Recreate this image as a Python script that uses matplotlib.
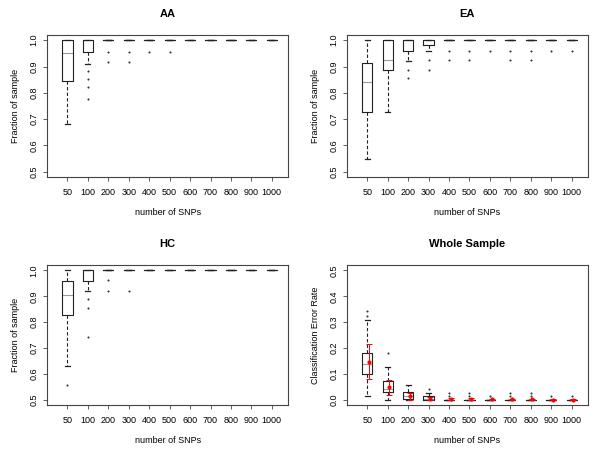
import matplotlib
matplotlib.use("Agg")
import matplotlib.pyplot as plt

plt.rcParams['font.family'] = ['Liberation Sans', 'DejaVu Sans']

snps = ["50", "100", "200", "300", "400", "500", "600", "700", "800", "900", "1000"]

# AA
aa_q1 = [0.845, 0.957, 1.0, 1.0, 1.0, 1.0, 1.0, 1.0, 1.0, 1.0, 1.0]
aa_med = [0.95, 1.0, 1.0, 1.0, 1.0, 1.0, 1.0, 1.0, 1.0, 1.0, 1.0]
aa_q3 = [1.0] * 11
aa_lo = [0.68, 0.911, 1.0, 1.0, 1.0, 1.0, 1.0, 1.0, 1.0, 1.0, 1.0]
aa_hi = [1.0] * 11
aa_out = [[], [0.883, 0.853, 0.823, 0.777], [0.957, 0.918], [0.957, 0.918],
          [0.957], [0.957], [], [], [], [], []]

# EA
ea_q1 = [0.727, 0.888, 0.96, 0.981, 1.0, 1.0, 1.0, 1.0, 1.0, 1.0, 1.0]
ea_med = [0.841, 0.923, 1.0, 1.0, 1.0, 1.0, 1.0, 1.0, 1.0, 1.0, 1.0]
ea_q3 = [0.915, 1.0, 1.0, 1.0, 1.0, 1.0, 1.0, 1.0, 1.0, 1.0, 1.0]
ea_lo = [0.547, 0.727, 0.921, 0.96, 1.0, 1.0, 1.0, 1.0, 1.0, 1.0, 1.0]
ea_hi = [1.0] * 11
ea_out = [[], [], [0.888, 0.857], [0.923, 0.888], [0.96, 0.923], [0.96, 0.923],
          [0.96], [0.96, 0.923], [0.96, 0.923], [0.96], [0.96]]

# HC
hc_q1 = [0.827, 0.957, 1.0, 1.0, 1.0, 1.0, 1.0, 1.0, 1.0, 1.0, 1.0]
hc_med = [0.905, 1.0, 1.0, 1.0, 1.0, 1.0, 1.0, 1.0, 1.0, 1.0, 1.0]
hc_q3 = [0.957, 1.0, 1.0, 1.0, 1.0, 1.0, 1.0, 1.0, 1.0, 1.0, 1.0]
hc_lo = [0.632, 0.92, 1.0, 1.0, 1.0, 1.0, 1.0, 1.0, 1.0, 1.0, 1.0]
hc_hi = [1.0] * 11
hc_out = [[0.556], [0.889, 0.854, 0.744], [0.961, 0.921], [0.922],
          [], [], [], [], [], [], []]

# Whole sample
ws_q1 = [0.099, 0.031, 0.003, 0.0, 0.0, 0.0, 0.0, 0.0, 0.0, 0.0, 0.0]
ws_med = [0.14, 0.041, 0.013, 0.005, 0.0, 0.0, 0.0, 0.0, 0.0, 0.0, 0.0]
ws_q3 = [0.182, 0.071, 0.029, 0.015, 0.0, 0.0, 0.0, 0.0, 0.0, 0.0, 0.0]
ws_lo = [0.015, 0.0, 0.0, 0.0, 0.0, 0.0, 0.0, 0.0, 0.0, 0.0, 0.0]
ws_hi = [0.309, 0.125, 0.056, 0.028, 0.0, 0.0, 0.0, 0.0, 0.0, 0.0, 0.0]
ws_out = [[0.325, 0.342], [0.181], [], [0.042], [0.014, 0.028], [0.014, 0.028],
          [0.014], [0.014, 0.028], [0.014, 0.028], [0.014], [0.014]]
ws_mean = [0.146, 0.048, 0.013, 0.005, 0.003, 0.003, 0.002, 0.002, 0.002, 0.001, 0.001]
ws_err_lo = [0.081, 0.018, 0.0, 0.0, 0.0, 0.0, 0.0, 0.0, 0.0, 0.0, 0.0]
ws_err_hi = [0.214, 0.076, 0.028, 0.011, 0.007, 0.007, 0.005, 0.005, 0.005, 0.003, 0.003]


def make_stats(q1, med, q3, lo, hi, out):
    return [dict(q1=a, med=b, q3=c, whislo=d, whishi=e, fliers=f)
            for a, b, c, d, e, f in zip(q1, med, q3, lo, hi, out)]


def draw_panel(ax, stats, title, ylabel, ylim, yticks):
    pos = list(range(1, len(stats) + 1))
    ax.bxp(stats, positions=pos, widths=0.5, showfliers=True,
           boxprops=dict(color='#222222', linewidth=0.8, zorder=3),
           whiskerprops=dict(color='#222222', linewidth=0.8, linestyle=(0, (3, 2))),
           capprops=dict(color='#222222', linewidth=0.9),
           capwidths=0.25,
           medianprops=dict(color='#999999', linewidth=0.8, zorder=2),
           flierprops=dict(marker='o', markersize=1.5, markerfacecolor='#333333',
                           markeredgewidth=0, linestyle='none'))
    ax.set_xlim(0.0, 11.8)
    ax.set_ylim(*ylim)
    ax.set_xticks(pos)
    ax.set_xticklabels(snps, fontsize=6.5)
    ax.set_yticks(yticks)
    ax.set_yticklabels([f"{t:.1f}" for t in yticks], fontsize=6.5, rotation=90, va='center')
    ax.tick_params(length=3, width=0.6, color='#444444', pad=3)
    ax.tick_params(axis='x', pad=5)
    for s in ax.spines.values():
        s.set_color('#444444')
        s.set_linewidth(0.8)
    ax.set_title(title, fontsize=8, fontweight='bold', pad=13)
    ax.set_xlabel("number of SNPs", fontsize=6.5, labelpad=8)
    ax.set_ylabel(ylabel, fontsize=6.5, labelpad=7)


fig = plt.figure(figsize=(6, 4.51), dpi=100)
ax1 = fig.add_axes([0.0783, 0.6075, 0.402, 0.315])
ax2 = fig.add_axes([0.578, 0.6075, 0.402, 0.315])
ax3 = fig.add_axes([0.0783, 0.102, 0.402, 0.310])
ax4 = fig.add_axes([0.578, 0.102, 0.402, 0.310])

frac_ticks = [0.5, 0.6, 0.7, 0.8, 0.9, 1.0]
draw_panel(ax1, make_stats(aa_q1, aa_med, aa_q3, aa_lo, aa_hi, aa_out),
           "AA", "Fraction of sample", (0.48, 1.02), frac_ticks)
draw_panel(ax2, make_stats(ea_q1, ea_med, ea_q3, ea_lo, ea_hi, ea_out),
           "EA", "Fraction of sample", (0.48, 1.02), frac_ticks)
draw_panel(ax3, make_stats(hc_q1, hc_med, hc_q3, hc_lo, hc_hi, hc_out),
           "HC", "Fraction of sample", (0.48, 1.02), frac_ticks)
draw_panel(ax4, make_stats(ws_q1, ws_med, ws_q3, ws_lo, ws_hi, ws_out),
           "Whole Sample", "Classification Error Rate", (-0.02, 0.52),
           [0.0, 0.1, 0.2, 0.3, 0.4, 0.5])

# red mean +/- error bars, slightly offset to the right of each box
xs = [i + 1.08 for i in range(len(ws_mean))]
yerr = [[m - lo for m, lo in zip(ws_mean, ws_err_lo)],
        [hi - m for m, hi in zip(ws_mean, ws_err_hi)]]
ax4.errorbar(xs, ws_mean, yerr=yerr, fmt='o', color='red', markersize=2.0,
             elinewidth=0.7, capsize=2.5, capthick=0.7, zorder=4)

plt.savefig("out.png", dpi=100)
plt.close()
